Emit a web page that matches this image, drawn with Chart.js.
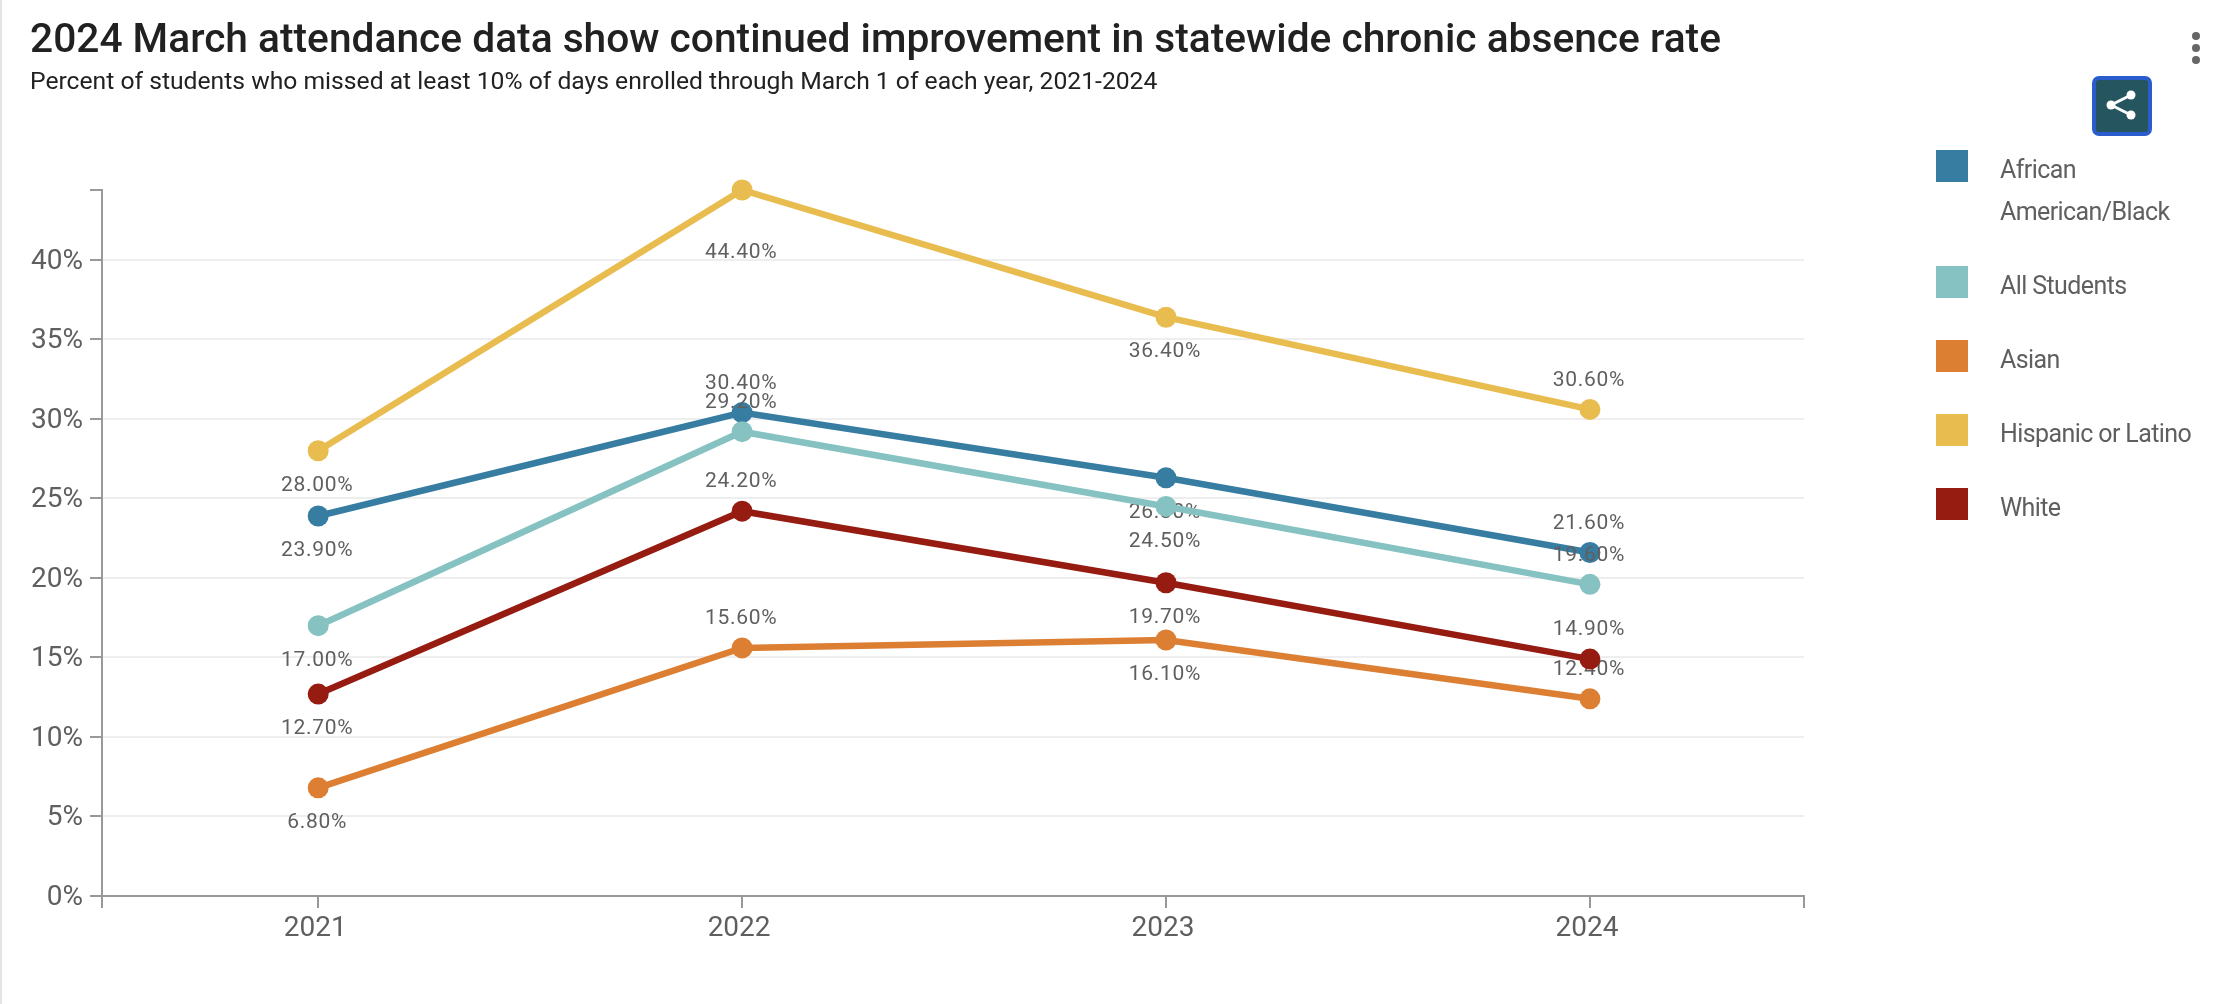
<!DOCTYPE html>
<html>
<head>
<meta charset="utf-8">
<title>Chronic absence rate</title>
<script src="https://cdn.jsdelivr.net/npm/chart.js@4"></script>
<style>
  html, body { margin: 0; padding: 0; background: #fff; }
  body { position: relative; width: 2234px; height: 1004px; overflow: hidden; font-family: Roboto, sans-serif; }
  #edge { position: absolute; left: 0; top: 0; width: 2px; height: 1004px; background: #e3e3e3; }
  #chart { position: absolute; left: 0; top: 0; }
  h1 { position: absolute; left: 30px; top: 15px; margin: 0; font-size: 40.7px; line-height: 46px; font-weight: 500; color: #212121; white-space: nowrap; }
  h2 { position: absolute; left: 30px; top: 65px; margin: 0; font-size: 24.68px; line-height: 32px; font-weight: 400; color: #212121; white-space: nowrap; }
  #legend { position: absolute; left: 1936px; top: 149px; width: 298px; color: #5f5f5f; font-size: 25px; letter-spacing: -0.6px; line-height: 42px; }
  .item { display: flex; margin-bottom: 32px; }
  .swatch { flex: none; width: 32px; height: 32px; margin-top: 1px; margin-right: 32px; }
  #share { position: absolute; left: 2092px; top: 76px; width: 60px; height: 60px; box-sizing: border-box; border: 4px solid #2a5ccc; border-radius: 7px; background: #25565f; }
  #dots { position: absolute; left: 2191px; top: 32px; width: 10px; height: 32px; }
</style>
</head>
<body>
<div id="edge"></div>
<canvas id="chart" width="2234" height="1004"></canvas>
<h1>2024 March attendance data show continued improvement in statewide chronic absence rate</h1>
<h2>Percent of students who missed at least 10% of days enrolled through March 1 of each year, 2021-2024</h2>
<div id="share">
  <svg width="52" height="52" viewBox="0 0 52 52">
    <path d="M15 25 L35 15 M15 25 L35 35" stroke="#fff" stroke-width="3" fill="none"/>
    <circle cx="15" cy="25" r="4.5" fill="#fff"/><circle cx="35" cy="15" r="4.5" fill="#fff"/><circle cx="35" cy="35" r="4.5" fill="#fff"/>
  </svg>
</div>
<svg id="dots" viewBox="0 0 10 32">
  <circle cx="5" cy="4" r="4" fill="#666"/><circle cx="5" cy="16" r="4" fill="#666"/><circle cx="5" cy="28" r="4" fill="#666"/>
</svg>
<div id="legend"></div>
<script>
const years = [2021, 2022, 2023, 2024];
const seriesNames = ['African American/Black', 'All Students', 'Asian', 'Hispanic or Latino', 'White'];
const black = [23.9, 30.4, 26.3, 21.6];
const allStudents = [17.0, 29.2, 24.5, 19.6];
const asian = [6.8, 15.6, 16.1, 12.4];
const hispanic = [28.0, 44.4, 36.4, 30.6];
const white = [12.7, 24.2, 19.7, 14.9];
const colors = ['#377ca1', '#85c2c1', '#dc7f33', '#e9bc50', '#961b11'];
const allValues = [black, allStudents, asian, hispanic, white];

const labelColor = '#5f5f5f';
const axisColor = '#999';

// labels go under the point on odd years, over it on even ones, unless there is no room
const pointLabels = {
  id: 'pointLabels',
  afterDatasetDraw(chart, args) {
    const ctx = chart.ctx;
    const meta = args.meta;
    ctx.save();
    ctx.font = '21px Roboto';
    ctx.letterSpacing = '0.7px';
    ctx.fillStyle = labelColor;
    ctx.textAlign = 'center';
    ctx.textBaseline = 'middle';
    meta.data.forEach((pt, i) => {
      let offset = i % 2 === 1 ? -29 : 35;
      if (i % 2 === 1 && pt.y - 40 < chart.chartArea.top) offset = 63;
      const val = allValues[args.index][i];
      ctx.fillText(val.toFixed(2) + '%', pt.x - 1, pt.y + offset);
    });
    ctx.restore();
  }
};

const datasets = seriesNames.map((name, i) => ({
  label: name,
  data: years.map((y, j) => ({ x: y, y: allValues[i][j] })),
  borderColor: colors[i],
  backgroundColor: colors[i],
  borderWidth: 6.5,
  pointRadius: 10.5,
  pointBorderWidth: 0,
  pointHoverRadius: 10.5,
  tension: 0,
  clip: false,
  order: seriesNames.length - i
}));

new Chart(document.getElementById('chart'), {
  type: 'line',
  data: { datasets },
  plugins: [pointLabels],
  options: {
    responsive: false,
    animation: false,
    devicePixelRatio: 1,
    layout: { padding: { left: 0, top: 190, right: 430, bottom: 0 } },
    plugins: { legend: { display: false }, title: { display: false }, tooltip: { enabled: false } },
    scales: {
      x: {
        type: 'linear',
        min: 2020.49,
        max: 2024.505,
        afterFit(scale) { scale.height = 108; },
        border: { color: axisColor, width: 2 },
        grid: { drawOnChartArea: false, color: axisColor, tickColor: axisColor, tickLength: 12, lineWidth: 2 },
        ticks: {
          stepSize: 1,
          autoSkip: false,
          maxRotation: 0,
          padding: 4,
          labelOffset: -3,
          color: labelColor,
          font: { family: 'Roboto', size: 28 },
          callback: v => Number.isInteger(v) ? String(v) : ''
        }
      },
      y: {
        min: 0,
        max: 44.4,
        afterFit(scale) { scale.width = 102; },
        border: { color: axisColor, width: 2 },
        grid: {
          color: ctx => (ctx.tick && ctx.tick.value % 5 === 0) ? '#eeeeee' : 'rgba(0,0,0,0)',
          tickColor: axisColor,
          tickLength: 12,
          lineWidth: 2
        },
        ticks: {
          stepSize: 5,
          padding: 7,
          labelOffset: 2,
          color: labelColor,
          font: { family: 'Roboto', size: 28 },
          callback: v => v % 5 === 0 ? v + '%' : ''
        }
      }
    }
  }
});

const legend = document.getElementById('legend');
seriesNames.forEach((name, i) => {
  const item = document.createElement('div');
  item.className = 'item';
  const sw = document.createElement('div');
  sw.className = 'swatch';
  sw.style.background = colors[i];
  const txt = document.createElement('div');
  txt.textContent = name;
  item.appendChild(sw);
  item.appendChild(txt);
  legend.appendChild(item);
});
</script>
</body>
</html>
